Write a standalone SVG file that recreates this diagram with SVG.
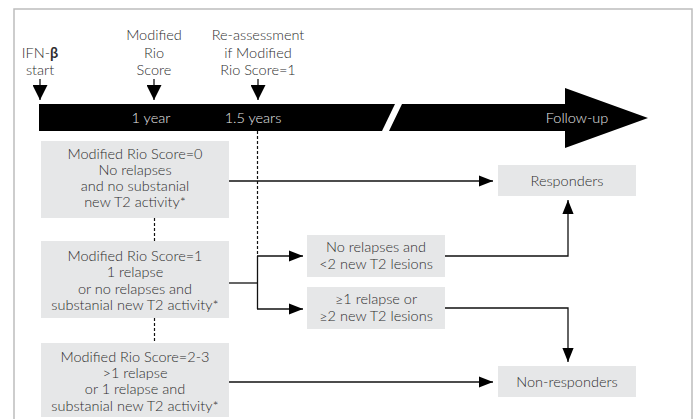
<svg xmlns="http://www.w3.org/2000/svg" width="696" height="419" viewBox="0 0 696 419">
<defs>
<style>
text{font-family:"Lato","Liberation Sans",sans-serif;font-weight:300;font-size:14.5px;fill:#2e2e2e;text-anchor:middle}
.w{fill:#e8e8e8}
.box{fill:#e6e7e8}
.ln{stroke:#111;stroke-width:1.3;fill:none}
.dash{stroke:#111;stroke-width:1.2;stroke-dasharray:3,2;fill:none}
</style>
<marker id="ah" viewBox="0 0 10 10" refX="10" refY="5" markerWidth="15" markerHeight="15" markerUnits="userSpaceOnUse" orient="auto">
<path d="M0,0 L10,5 L0,10 Z" fill="#000"/>
</marker>
<marker id="ahb" viewBox="0 0 10 10" refX="10" refY="5" markerWidth="14" markerHeight="14" markerUnits="userSpaceOnUse" orient="auto">
<path d="M0,1 L10,5 L0,9 Z" fill="#000"/>
</marker>
</defs>
<rect width="696" height="419" fill="#fff"/>
<path d="M14,430 V9 H692 V430" fill="none" stroke="#bdbdbd" stroke-width="1.5"/>

<g id="timeline">
<path d="M39,104 H395 L382,131 H39 Z" fill="#000"/>
<path d="M402,104 H565 V88 L648,118 L565,148 V131 H389 Z" fill="#000"/>
<text class="w" x="151" y="123">1 year</text>
<text class="w" x="253" y="123">1.5 years</text>
<text class="w" x="577" y="123">Follow-up</text>
</g>

<g id="ifn-start">
<text x="40" y="58">IFN-<tspan font-weight="bold">β</tspan></text>
<text x="40" y="75">start</text>
</g>
<g id="modified-rio-score">
<text x="154" y="40">Modified</text>
<text x="154" y="58">Rio</text>
<text x="154" y="75">Score</text>
</g>
<g id="re-assessment">
<text x="258" y="40">Re-assessment</text>
<text x="258" y="58">if Modified</text>
<text x="258" y="75">Rio Score=1</text>
</g>

<g id="score0">
<rect class="box" x="41" y="141" width="188" height="77"/>
<text x="135" y="159">Modified Rio Score=0</text>
<text x="135" y="175">No relapses</text>
<text x="135" y="191">and no substanial</text>
<text x="135" y="207">new T2 activity*</text>
</g>
<g id="score1">
<rect class="box" x="41" y="241" width="188" height="77"/>
<text x="135" y="261">Modified Rio Score=1</text>
<text x="135" y="277">1 relapse</text>
<text x="135" y="294">or no relapses and</text>
<text x="135" y="310">substanial new T2 activity*</text>
</g>
<g id="score23">
<rect class="box" x="41" y="343" width="188" height="74"/>
<text x="135" y="362">Modified Rio Score=2-3</text>
<text x="135" y="378">&gt;1 relapse</text>
<text x="135" y="394">or 1 relapse and</text>
<text x="135" y="411">substanial new T2 activity*</text>
</g>
<g id="no-relapses">
<rect class="box" x="307" y="235" width="138" height="42"/>
<text x="376" y="252">No relapses and</text>
<text x="376" y="269">&lt;2 new T2 lesions</text>
</g>
<g id="relapse">
<rect class="box" x="307" y="287" width="138" height="42"/>
<text x="376" y="304">≥1 relapse or</text>
<text x="376" y="321">≥2 new T2 lesions</text>
</g>
<g id="responders">
<rect class="box" x="498" y="165" width="138" height="31"/>
<text x="567" y="186">Responders</text>
</g>
<g id="non-responders">
<rect class="box" x="498" y="366" width="138" height="31"/>
<text x="567" y="387">Non-responders</text>
</g>

<g id="connectors">
<line class="ln" x1="40" y1="79" x2="40" y2="100" marker-end="url(#ah)"/>
<line class="ln" x1="154" y1="79" x2="154" y2="100" marker-end="url(#ah)"/>
<line class="ln" x1="258" y1="79" x2="258" y2="100" marker-end="url(#ah)"/>
<line class="dash" x1="257.5" y1="131" x2="257.5" y2="256"/>
<line class="dash" x1="154.5" y1="218" x2="154.5" y2="241"/>
<line class="dash" x1="154.5" y1="318" x2="154.5" y2="343"/>
<line class="ln" x1="229" y1="181" x2="493" y2="181" marker-end="url(#ahb)"/>
<line class="ln" x1="229" y1="382" x2="493" y2="382" marker-end="url(#ahb)"/>
<line class="ln" x1="229" y1="283" x2="257.5" y2="283"/>
<path class="ln" d="M257.5,256 V309"/>
<line class="ln" x1="257" y1="256" x2="303" y2="256" marker-end="url(#ahb)"/>
<line class="ln" x1="257" y1="309" x2="303" y2="309" marker-end="url(#ahb)"/>
<path class="ln" d="M445,256 H568 V200" marker-end="url(#ahb)"/>
<path class="ln" d="M445,308 H568 V362" marker-end="url(#ahb)"/>
</g>
</svg>
